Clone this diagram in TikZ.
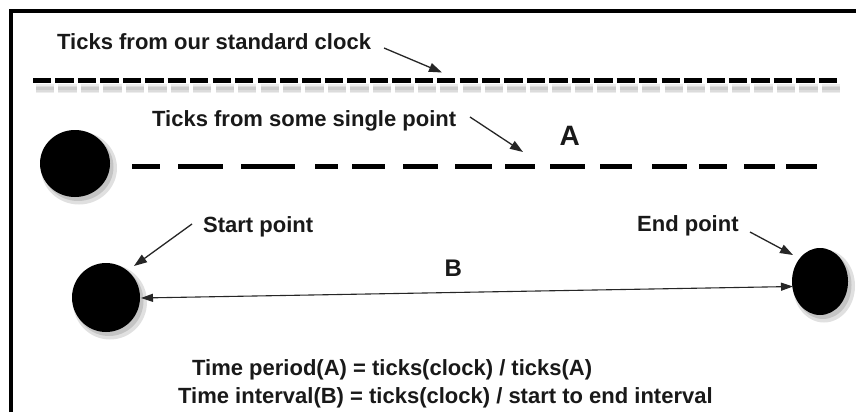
\documentclass[tikz,border=0pt]{standalone}
\usepackage{fontspec}
\setmainfont{Liberation Sans}
\usetikzlibrary{arrows.meta,shapes.geometric}
\begin{document}
\begin{tikzpicture}[x=1pt,y=-1pt,
  lbl/.style={font=\bfseries\fontsize{22}{26}\selectfont, inner sep=0pt, anchor=base west, text=black!90},
  letterlbl/.style={font=\bfseries\fontsize{#1}{#1}\selectfont, inner sep=0pt, anchor=base west, text=black!90},
  dot/.style={ellipse, fill=black, inner sep=0pt},
  dotshadow/.style={ellipse, fill=black, opacity=0.12, inner sep=0pt},
  pointer/.style={line width=1.3pt, draw=black!85, -{Triangle[length=13pt,width=9pt]}},
  twoway/.style={line width=1.1pt, draw=black!85, {Triangle[length=12pt,width=8pt]}-{Triangle[length=12pt,width=8pt]}},
  ticks/.style={line width=5pt, draw=black},
  tickshadow/.style={draw=black, opacity=0.07, dash pattern=on 18.3pt off 4.15pt},
]
\useasboundingbox (0,0) rectangle (856,412);
\fill[white] (0,0) rectangle (856,412);

% frame (cut off at right and bottom)
\draw[line width=4pt] (11,412) -- (11,11.5) -- (856,11.5);

% standard clock ticks
\coordinate (clkL) at (33,80.5);
\coordinate (clkR) at (837,80.5);
\draw[tickshadow, line width=9pt] ([shift={(3,8)}]clkL) -- ([shift={(3,8)}]clkR);
\draw[tickshadow, line width=6pt] ([shift={(3,8)}]clkL) -- ([shift={(3,8)}]clkR);
\draw[tickshadow, line width=3pt] ([shift={(3,8)}]clkL) -- ([shift={(3,8)}]clkR);
\draw[ticks, dash pattern=on 18.3pt off 4.15pt] (clkL) -- (clkR);

% single point ticks
\coordinate (ptL) at (132,166.5);
\coordinate (ptR) at (817,166.5);
\draw[ticks, dash pattern=on 28pt off 18pt on 45pt off 18pt on 54pt off 20pt on 23pt off 14pt on 33pt off 18pt on 35pt off 17pt on 37pt off 13pt on 30pt off 15pt on 35pt off 15pt on 32pt off 20pt on 35pt off 12pt on 28pt off 17pt on 31pt off 11pt on 31pt off 100pt] (ptL) -- (ptR);

% circles with soft shadows
\node[dotshadow, minimum width=76pt, minimum height=73pt] (s1a) at (79,168) {};
\node[dotshadow, minimum width=71pt, minimum height=68pt] (s1b) at (78,167) {};
\node[dot, minimum width=70pt, minimum height=67pt] (single) at (75,163.5) {};
\node[dotshadow, minimum width=74pt, minimum height=75pt] (s2a) at (110,302) {};
\node[dotshadow, minimum width=69pt, minimum height=70pt] (s2b) at (109,301) {};
\node[dot, minimum width=68pt, minimum height=69pt] (start) at (106,297.5) {};
\node[dotshadow, minimum width=62pt, minimum height=73pt] (s3a) at (824,286) {};
\node[dotshadow, minimum width=57pt, minimum height=68pt] (s3b) at (823,285) {};
\node[dot, minimum width=56pt, minimum height=67pt] (end) at (820,281.5) {};

% labels
\node[lbl] (clocklbl) at (57,50) {Ticks from our standard clock};
\node[lbl] (singlelbl) at (152,126) {Ticks from some single point};
\node[lbl] (startlbl) at (203,232) {Start point};
\node[lbl] (endlbl) at (637,231) {End point};
\node[letterlbl=28] (alab) at (559.5,145) {A};
\node[letterlbl=24] (blab) at (444.5,276) {B};
\node[lbl] (f1) at (192,375.5) {Time period(A) = ticks(clock) / ticks(A)};
\node[lbl] (f2) at (178,403.5) {Time interval(B) = ticks(clock) / start to end interval};

% pointer arrows
\coordinate (c1a) at (384,48);
\coordinate (c1b) at (442,72.5);
\coordinate (c2a) at (470,117);
\coordinate (c2b) at (523,152);
\coordinate (c3a) at (192,224);
\coordinate (c3b) at (134,266);
\coordinate (c4a) at (750,232);
\coordinate (c4b) at (793,255);
\draw[pointer] (c1a) -- (c1b);
\draw[pointer] (c2a) -- (c2b);
\draw[pointer] (c3a) -- (c3b);
\draw[pointer] (c4a) -- (c4b);

% interval B
\coordinate (bL) at (141,298);
\coordinate (bR) at (793,286.5);
\draw[twoway] (bL) -- (bR);
\end{tikzpicture}
\end{document}
